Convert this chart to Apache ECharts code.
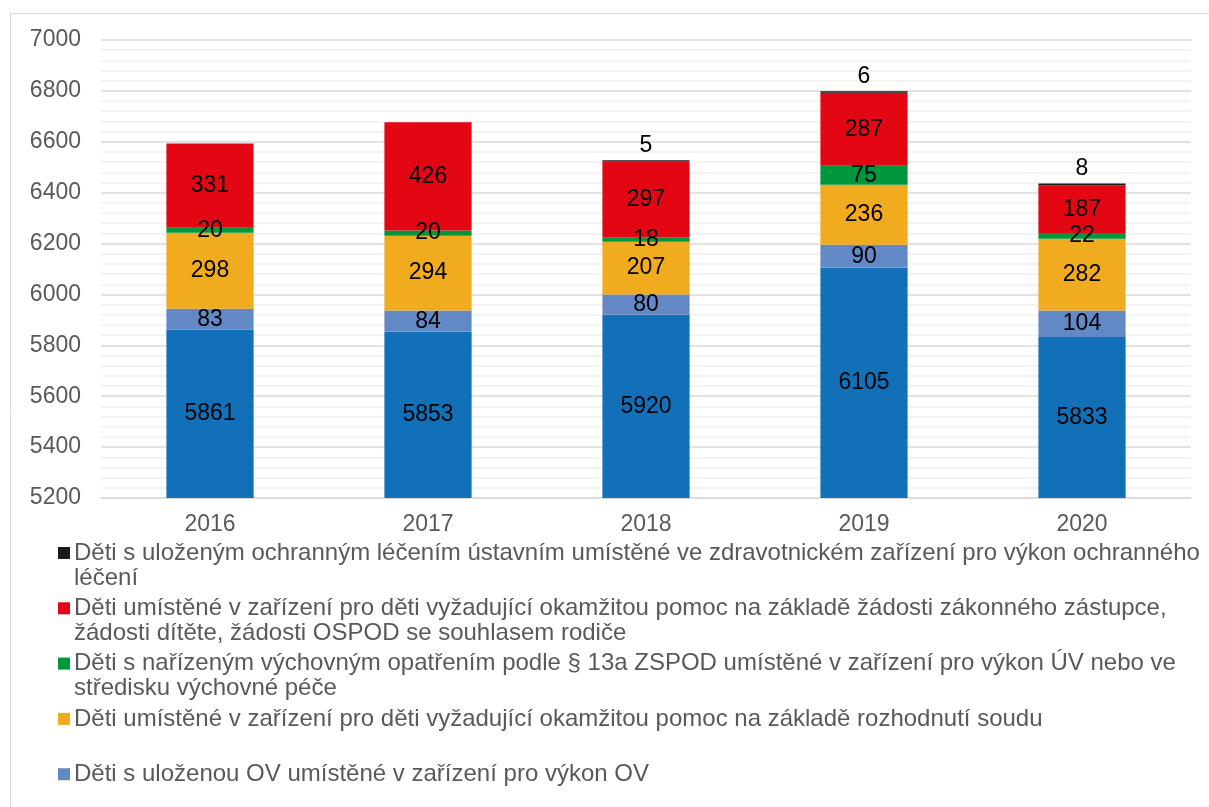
<!DOCTYPE html>
<html>
<head>
<meta charset="utf-8">
<script src="https://cdn.jsdelivr.net/npm/echarts@6/dist/echarts.min.js"></script>
<style>
  html, body { margin: 0; padding: 0; background: #fff; }
  #chart { width: 1209px; height: 807px; }
</style>
</head>
<body>
<div id="chart"></div>
<script>
const years = ["2016", "2017", "2018", "2019", "2020"];

const zakladni = [5861, 5853, 5920, 6105, 5833];
const ovValues = [83, 84, 80, 90, 104];
const soudValues = [298, 294, 207, 236, 282];
const zspodValues = [20, 20, 18, 75, 22];
const zadostValues = [331, 426, 297, 287, 187];
const lecenValues = [null, null, 5, 6, 8];

// legend texts, broken as in the source
const legendLecen = ["Děti s uloženým ochranným léčením ústavním umístěné ve zdravotnickém zařízení pro výkon ochranného", "léčení"];
const legendZadost = ["Děti umístěné v zařízení pro děti vyžadující okamžitou pomoc na základě žádosti zákonného zástupce,", "žádosti dítěte, žádosti OSPOD se souhlasem rodiče"];
const legendZspod = ["Děti s nařízeným výchovným opatřením podle § 13a ZSPOD umístěné v zařízení pro výkon ÚV nebo ve", "středisku výchovné péče"];
const legendSoud = ["Děti umístěné v zařízení pro děti vyžadující okamžitou pomoc na základě rozhodnutí soudu"];
const legendOv = ["Děti s uloženou OV umístěné v zařízení pro výkon OV"];

const FONT = "Liberation Sans, Arial, sans-serif";
const TEXT = "#595959";

const chart = echarts.init(document.getElementById("chart"));

function bar(name, data, color, labelPos) {
  return {
    name: name,
    type: "bar",
    stack: "total",
    barWidth: "40%",
    data: data,
    itemStyle: { color: color },
    label: {
      show: true,
      position: labelPos || "inside",
      color: "#000",
      fontSize: 23,
      fontFamily: FONT,
      distance: 3,
    },
  };
}

// custom legend: icon aligned to first text line
const legendItems = [
  { lines: legendLecen, color: "#1a1a1a" },
  { lines: legendZadost, color: "#e30613" },
  { lines: legendZspod, color: "#00963c" },
  { lines: legendSoud, color: "#f0ab1e" },
  { lines: legendOv, color: "#6388c6" },
];
const graphic = [
  {
    type: "rect",
    shape: { x: 10.5, y: 13.5, width: 1210, height: 800 },
    style: { fill: "none", stroke: "#d9d9d9", lineWidth: 1 },
    silent: true,
  },
];
legendItems.forEach((it, i) => {
  const y0 = 553 + i * 55.3;
  graphic.push({
    type: "rect",
    shape: { x: 58, y: y0 - 6, width: 12, height: 12 },
    style: { fill: it.color },
  });
  it.lines.forEach((ln, j) => {
    graphic.push({
      type: "text",
      x: 74,
      y: y0 + j * 25,
      style: {
        text: ln,
        fill: TEXT,
        fontSize: 24,
        fontFamily: FONT,
        verticalAlign: "middle",
      },
    });
  });
});

chart.setOption({
  animation: false,
  grid: { left: 101, right: 18, top: 40, bottom: 309, containLabel: false },
  xAxis: {
    type: "category",
    data: years,
    axisTick: { show: false },
    axisLine: { lineStyle: { color: "#d9d9d9", width: 1.5 } },
    axisLabel: { color: TEXT, fontSize: 23, fontFamily: FONT, margin: 15 },
  },
  yAxis: {
    type: "value",
    min: 5200,
    max: 7000,
    interval: 200,
    axisLine: { show: false },
    axisTick: { show: false },
    axisLabel: {
      color: TEXT,
      fontSize: 23,
      fontFamily: FONT,
      margin: 20,
      formatter: (v) => String(v),
    },
    splitLine: { lineStyle: { color: "#d9d9d9", width: 1.5 } },
    minorTick: { show: false, splitNumber: 5 },
    minorSplitLine: { show: true, lineStyle: { color: "#f0f0f0", width: 1.5 } },
  },
  series: [
    bar("Děti ostatní", zakladni, "#1170b8"),
    bar(legendOv.join(" "), ovValues, "#6388c6"),
    bar(legendSoud.join(" "), soudValues, "#f0ab1e"),
    bar(legendZspod.join(" "), zspodValues, "#00963c"),
    bar(legendZadost.join(" "), zadostValues, "#e30613"),
    bar(legendLecen.join(" "), lecenValues, "#1a1a1a", "top"),
  ],
  graphic: graphic,
});
</script>
</body>
</html>
